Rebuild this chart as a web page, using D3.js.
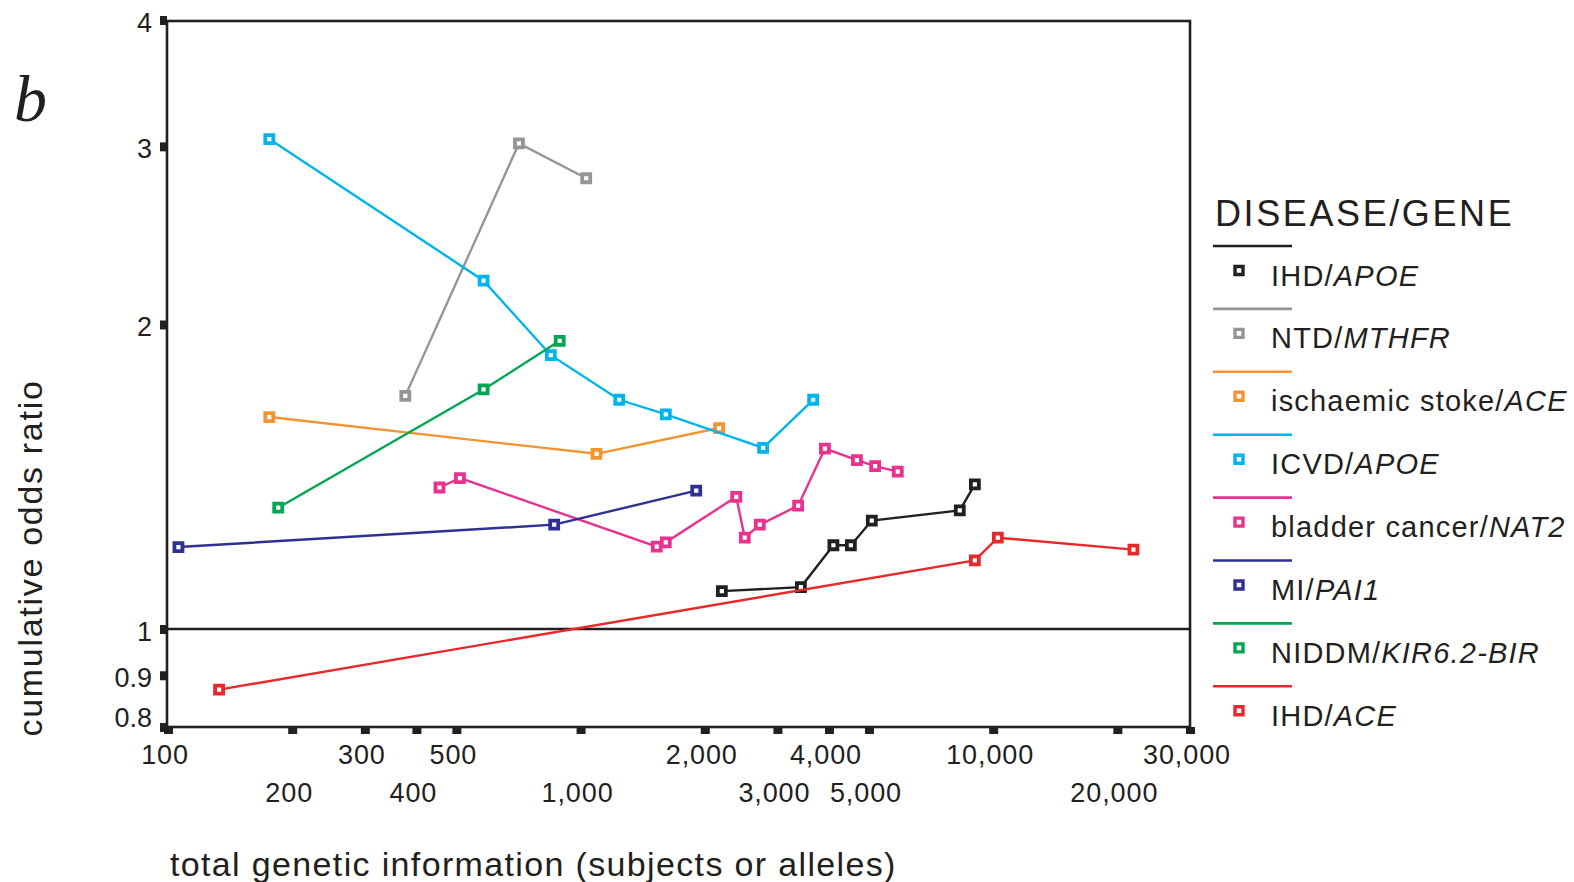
<!DOCTYPE html>
<html>
<head>
<meta charset="utf-8">
<script src="https://cdn.jsdelivr.net/npm/d3@7"></script>
<style>
  body { margin: 0; background: #fff; }
  svg { display: block; }
  text { font-family: "Liberation Sans", Arial, Helvetica, sans-serif; fill: #231f20; }
</style>
</head>
<body>
<svg id="chart" width="1574" height="882"></svg>
<script>
// Cumulative odds ratio against total genetic information, one series per disease/gene pair.
// Each point: [total subjects or alleles, cumulative odds ratio]
const ihdApoe    = [[2200, 1.09], [3420, 1.10], [4100, 1.21], [4520, 1.21], [5080, 1.28], [8300, 1.31], [9030, 1.39]];
const ntdMthfr   = [[376, 1.70], [709, 3.02], [1032, 2.79]];
const strokeAce  = [[176, 1.62], [1093, 1.49], [2167, 1.58]];
const icvdApoe   = [[176, 3.05], [582, 2.21], [847, 1.865], [1241, 1.685], [1609, 1.63], [2770, 1.51], [3662, 1.685]];
const bladderNat2 = [[455, 1.38], [510, 1.41], [1530, 1.206], [1609, 1.218], [2384, 1.351], [2500, 1.231], [2719, 1.268],
                     [3368, 1.324], [3911, 1.508], [4676, 1.469], [5176, 1.449], [5872, 1.431]];
const miPai1     = [[106, 1.205], [863, 1.268], [1907, 1.37]];
const niddmKir   = [[185, 1.318], [582, 1.725], [890, 1.927]];
const ihdAce     = [[133, 0.871], [9030, 1.169], [10266, 1.231], [21880, 1.198]];

const diseases = ["IHD", "NTD", "ischaemic stoke", "ICVD", "bladder cancer", "MI", "NIDDM", "IHD"];
const genes    = ["APOE", "MTHFR", "ACE", "APOE", "NAT2", "PAI1", "KIR6.2-BIR", "ACE"];
const seriesData = [ihdApoe, ntdMthfr, strokeAce, icvdApoe, bladderNat2, miPai1, niddmKir, ihdAce];
const colors = ["#231f20", "#939598", "#f39433", "#00b4ee", "#e9318e", "#2e3192", "#00a651", "#e8282b"];

const xTicks = [100, 200, 300, 400, 500, 1000, 2000, 3000, 4000, 5000, 10000, 20000, 30000];
const xTickLabels = ["100", "200", "300", "400", "500", "1,000", "2,000", "3,000", "4,000", "5,000", "10,000", "20,000", "30,000"];
const xLowerRow = [200, 400, 1000, 3000, 5000, 20000];
const yTicks = [0.8, 0.9, 1, 2, 3, 4];
const yTickLabels = ["0.8", "0.9", "1", "2", "3", "4"];

const ink = "#231f20";
const svg = d3.select("#chart");

const x = d3.scaleLog().domain([100, 30000]).range([168, 1190]);
const y = d3.scaleLog().domain([0.8, 4]).range([727, 20]);

const plotLeft = x(100) - 1, plotRight = x(30000), plotTop = y(4) + 1, plotBottom = y(0.8);

// panel letter
svg.append("text")
  .attr("x", 14).attr("y", 121)
  .style("font-family", "'Liberation Serif', 'Times New Roman', serif")
  .style("font-style", "italic")
  .style("font-size", "66px")
  .text("b");

// axes: small square ticks, labels drawn separately
const xAxis = svg.append("g")
  .attr("transform", `translate(0,${plotBottom})`)
  .call(d3.axisBottom(x).tickValues(xTicks).tickSize(7).tickFormat(""));
xAxis.select(".domain").remove();
xAxis.selectAll(".tick line").attr("stroke", ink).attr("stroke-width", 9);

const yAxis = svg.append("g")
  .attr("transform", `translate(${plotLeft},0)`)
  .call(d3.axisLeft(y).tickValues(yTicks).tickSize(7).tickFormat(""));
yAxis.select(".domain").remove();
yAxis.selectAll(".tick line").attr("stroke", ink).attr("stroke-width", 9);

// frame
svg.append("rect")
  .attr("x", plotLeft).attr("y", plotTop)
  .attr("width", plotRight - plotLeft).attr("height", plotBottom - plotTop)
  .attr("fill", "none").attr("stroke", ink).attr("stroke-width", 2.6);

// reference line at odds ratio 1
svg.append("line")
  .attr("x1", plotLeft).attr("x2", plotRight)
  .attr("y1", y(1)).attr("y2", y(1))
  .attr("stroke", ink).attr("stroke-width", 2.6);

// x tick labels, staggered over two rows
svg.append("g").selectAll("text")
  .data(xTicks)
  .join("text")
  .attr("x", d => x(d) - 3)
  .attr("y", d => xLowerRow.includes(d) ? 802 : 764)
  .attr("text-anchor", "middle")
  .style("font-size", "27px")
  .style("letter-spacing", "0.9px")
  .text((d, i) => xTickLabels[i]);

// y tick labels
svg.append("g").selectAll("text")
  .data(yTicks)
  .join("text")
  .attr("x", 152)
  .attr("y", d => Math.min(y(d) + 12, plotBottom))
  .attr("text-anchor", "end")
  .style("font-size", "27px")
  .text((d, i) => yTickLabels[i]);

// axis titles
svg.append("text")
  .attr("x", 170).attr("y", 876)
  .style("font-size", "34px")
  .style("letter-spacing", "1.35px")
  .text("total genetic information (subjects or alleles)");

svg.append("text")
  .attr("transform", "translate(42,558) rotate(-90)")
  .attr("text-anchor", "middle")
  .style("font-size", "34px")
  .style("letter-spacing", "1.7px")
  .text("cumulative odds ratio");

// series lines and markers
const line = d3.line().x(d => x(d[0])).y(d => y(d[1]));
const square = d3.symbol().type(d3.symbolSquare).size(64);

const drawOrder = [1, 2, 3, 4, 5, 6, 0, 7];
drawOrder.forEach(k => {
  const g = svg.append("g");
  g.append("path")
    .attr("d", line(seriesData[k]))
    .attr("fill", "none")
    .attr("stroke", colors[k])
    .attr("stroke-width", 2.4);
  g.selectAll("path.pt")
    .data(seriesData[k])
    .join("path")
    .attr("class", "pt")
    .attr("transform", d => `translate(${x(d[0])},${y(d[1])})`)
    .attr("d", square)
    .attr("fill", "#fff")
    .attr("stroke", colors[k])
    .attr("stroke-width", 3.8);
});

// legend
const legend = svg.append("g");
legend.append("text")
  .attr("x", 1215).attr("y", 226)
  .style("font-size", "36px")
  .style("letter-spacing", "2.6px")
  .text("DISEASE/GENE");

diseases.forEach((dz, i) => {
  const ly = 246 + i * 62.9;
  legend.append("line")
    .attr("x1", 1213).attr("x2", 1292)
    .attr("y1", ly).attr("y2", ly)
    .attr("stroke", colors[i])
    .attr("stroke-width", 2.6);
  legend.append("path")
    .attr("transform", `translate(1239,${ly + 24.5})`)
    .attr("d", square)
    .attr("fill", "#fff")
    .attr("stroke", colors[i])
    .attr("stroke-width", 3.4);
  const t = legend.append("text")
    .attr("x", 1271).attr("y", ly + 39.5)
    .style("font-size", "29px")
    .style("letter-spacing", "1.2px");
  t.append("tspan").text(dz + "/");
  t.append("tspan").style("font-style", "italic").text(genes[i]);
});
</script>
</body>
</html>
